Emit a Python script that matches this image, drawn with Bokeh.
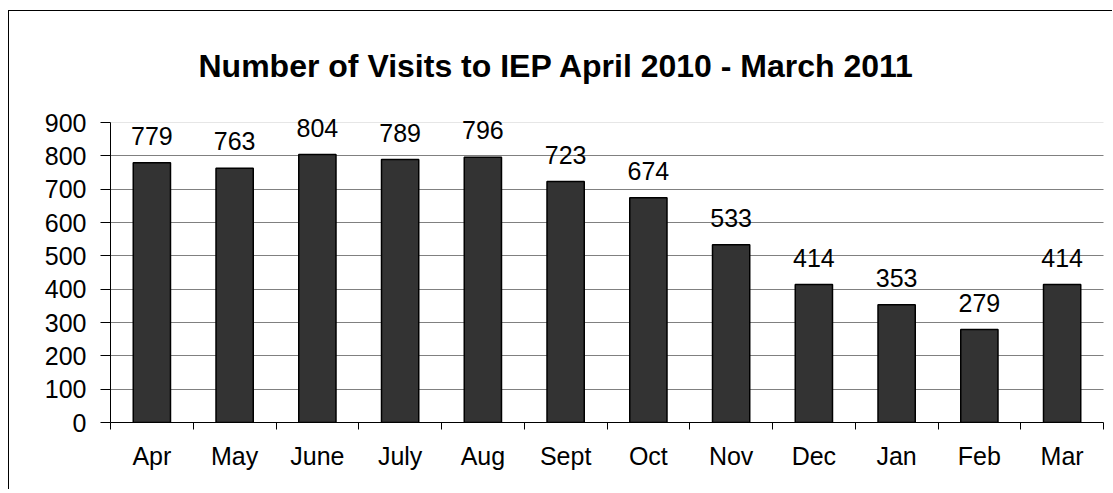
from bokeh.plotting import figure
from bokeh.models import (ColumnDataSource, LabelSet, Range1d, FixedTicker, Grid, Title)
from bokeh.layouts import column
from bokeh.core.properties import value
from bokeh.embed import file_html
from bokeh.resources import INLINE

months = ["Apr", "May", "June", "July", "Aug", "Sept", "Oct", "Nov", "Dec", "Jan", "Feb", "Mar"]
visits = [779, 763, 804, 789, 796, 723, 674, 533, 414, 353, 279, 414]
y_ticks = [0, 100, 200, 300, 400, 500, 600, 700, 800, 900]
title_text = "Number of Visits to IEP April 2010 - March 2011"

FONT = "Liberation Sans"

n = len(months)
centers = [i + 0.5 for i in range(n)]   # category slots on a linear scale
bounds = list(range(n + 1))             # separators between categories

src = ColumnDataSource(dict(x=centers, month=months, visits=visits,
                            label=[str(v) for v in visits]))

y_top = y_ticks[-1]
p = figure(x_range=Range1d(0, n * 1002 / 993), y_range=Range1d(0, y_top * 960 / 900),
           width=1103, height=478, output_backend="svg", toolbar_location=None,
           min_border_left=101, min_border_right=0,
           min_border_top=91, min_border_bottom=67, title=None)
p.outline_line_color = None
p.background_fill_color = "white"
p.border_fill_color = "white"

t = Title(text=title_text, align="left", offset=88, standoff=34,
          vertical_align="top",
          text_font=FONT, text_font_size="32px", text_font_style="bold",
          text_color="black")
p.add_layout(t, "above")

p.vbar(x="x", top="visits", width=0.45, source=src,
       fill_color="#333333", line_color="black", line_width=1.5)

# y axis
ya = p.yaxis[0]
ya.ticker = FixedTicker(ticks=y_ticks)
ya.bounds = (0, y_top)
ya.major_tick_out = 10
ya.major_tick_in = 0
ya.minor_tick_line_color = None
ya.axis_line_color = "black"
ya.major_tick_line_color = "black"
ya.major_label_text_font = FONT
ya.major_label_text_font_size = "25px"
ya.major_label_text_color = "black"
ya.major_label_standoff = 14
p.ygrid.grid_line_color = "#808080"
p.ygrid.ticker = FixedTicker(ticks=y_ticks[1:-1])
p.xgrid.grid_line_color = None
top_grid = Grid(dimension=1, ticker=FixedTicker(ticks=[y_top]),
                grid_line_color="#e6e6e6")
p.add_layout(top_grid)
for g in (p.ygrid[0], top_grid):
    if hasattr(g, "cross_bounds"):
        g.cross_bounds = (0, n)

# x axis: labels at centres, tick marks at separators
xa = p.xaxis[0]
xa.ticker = FixedTicker(ticks=centers, minor_ticks=bounds)
xa.bounds = (0, n)
xa.major_label_overrides = {c: m for c, m in zip(centers, months)}
xa.major_tick_out = 0
xa.major_tick_in = 0
xa.minor_tick_out = 7
xa.minor_tick_in = 0
xa.minor_tick_line_color = "black"
xa.axis_line_color = "black"
xa.major_label_text_font = FONT
xa.major_label_text_font_size = "25px"
xa.major_label_text_color = "black"
xa.major_label_standoff = 12

labels = LabelSet(x="x", y="visits", text="label", source=src,
                  text_align="center", text_baseline="alphabetic", y_offset=18,
                  text_font=value(FONT), text_font_size=value("25px"),
                  text_color="black")
p.add_layout(labels)

layout = column(p, styles={"border-left": "1px solid black",
                           "border-top": "1px solid black",
                           "margin-left": "8px", "margin-top": "10px"})

open("out.html", "w").write(file_html(layout, INLINE))
